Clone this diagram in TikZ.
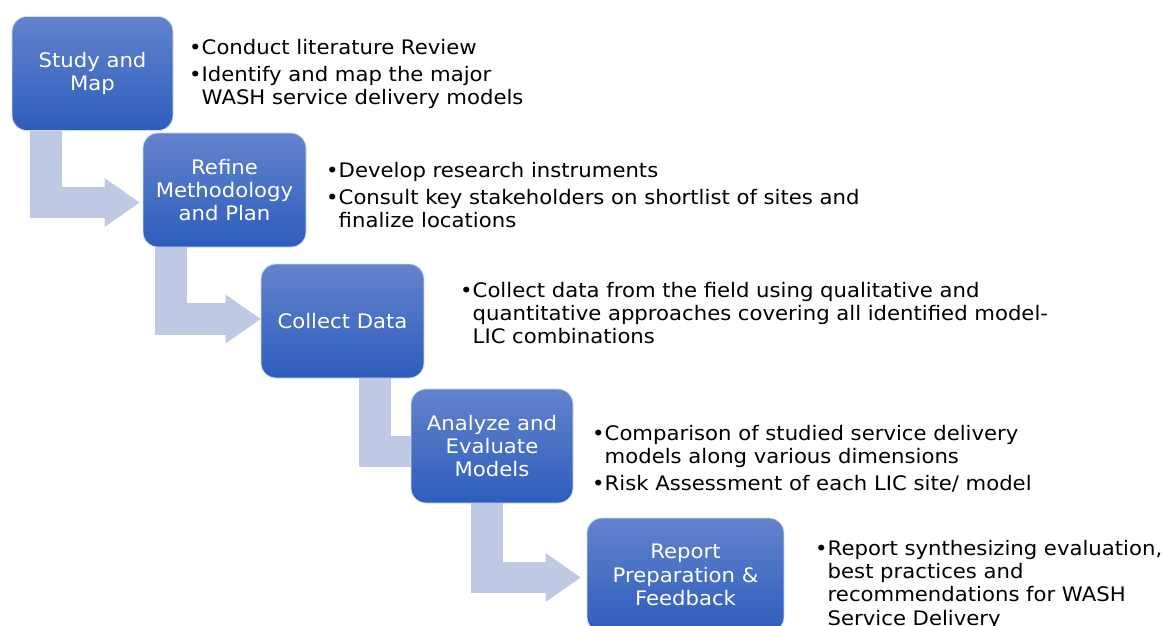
\documentclass[tikz,border=0pt]{standalone}
\usepackage{fontspec}
\setmainfont[FakeStretch=1.06]{DejaVu Sans}
\usetikzlibrary{arrows.meta,backgrounds}

\definecolor{boxtop}{RGB}{99,131,205}
\definecolor{boxbottom}{RGB}{45,93,188}
\definecolor{bararrow}{RGB}{192,201,228}

\newlength{\bulletwd}
\newcommand{\bitem}[1]{\par\settowidth{\bulletwd}{•}\hangindent=\bulletwd\hangafter=1\noindent•\strut#1\par}

\tikzset{
	phase/.style={rectangle, rounded corners=15pt, minimum height=114pt, inner sep=0pt,
		top color=boxtop, bottom color=boxbottom, draw=white!70!boxtop, line width=0.8pt,
		text=white, align=center, font=\fontsize{20}{23.3}\selectfont},
	desc/.style={anchor=north west, inner sep=0pt, text width=620pt, align=left,
		font=\fontsize{20}{23.3}\selectfont\setlength{\parskip}{3.7pt}},
	bentarrow/.style={draw=bararrow, line width=31.5pt,
		-{Triangle[length=35pt,width=49pt,line width=0pt]}},
}

\begin{document}
\begin{tikzpicture}[x=1pt,y=-1pt]
			\useasboundingbox (0,0) rectangle (1163,625);
			\node[phase, minimum width=161pt] at (92.5, 73.5) (study) {Study and\\Map};
			\node[phase, minimum width=163pt] at (224.5, 190) (refine) {Refine\\Methodology\\and Plan};
			\node[phase, minimum width=163pt] at (342.5, 321) (collect) {Collect Data};
			\node[phase, minimum width=162pt] at (492, 446) (analyze) {Analyze and\\Evaluate\\Models};
			\node[phase, minimum width=197pt] at (685.5, 575) (report) {Report\\Preparation \&\\Feedback};

			\node[desc] at (189, 27) (studytext) {%
				\bitem{Conduct literature Review}
				\bitem{Identify and map the major\newline WASH service delivery models}};
			\node[desc] at (326, 150) (refinetext) {%
				\bitem{Develop research instruments}
				\bitem{Consult key stakeholders on shortlist of sites and\newline finalize locations}};
			\node[desc] at (460, 270) (collecttext) {%
				\bitem{Collect data from the field using qualitative and\newline quantitative approaches covering all identified model-\newline LIC combinations}};
			\node[desc] at (592, 413) (analyzetext) {%
				\bitem{Comparison of studied service delivery\newline models along various dimensions}
				\bitem{Risk Assessment of each LIC site/ model}};
			\node[desc] at (815, 528) (reporttext) {%
				\bitem{Report synthesizing evaluation,\newline best practices and\newline recommendations for WASH\newline Service Delivery}};

			\begin{scope}[on background layer]
				\draw[bentarrow] ([xshift=-46.5pt]study.south) |- ([xshift=-3pt,yshift=-12.5pt]refine.west);
				\draw[bentarrow] ([xshift=-53.5pt]refine.south) |- ([yshift=2pt]collect.west);
				\draw[bentarrow] ([xshift=32.5pt]collect.south) |- ([xshift=58pt,yshift=-5.5pt]analyze.west);
				\draw[bentarrow] ([xshift=-5pt]analyze.south) |- ([xshift=-6pt,yshift=-2.5pt]report.west);
			\end{scope}
		\end{tikzpicture}
\end{document}
